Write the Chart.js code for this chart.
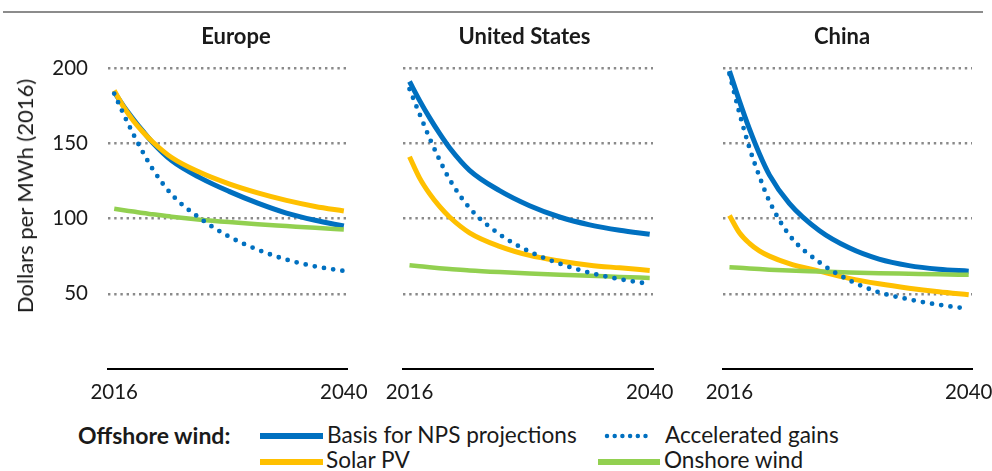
<!DOCTYPE html>
<html>
<head>
<meta charset="utf-8">
<script src="https://cdn.jsdelivr.net/npm/chart.js@4.4.1/dist/chart.umd.min.js"></script>
<style>
  body { margin: 0; width: 992px; height: 471px; background: #fff; position: relative; overflow: hidden; font-family: Lato, sans-serif; color: #1a1a1a; }
  .rule { position: absolute; left: 3px; top: 11px; width: 980px; height: 2px; background: #8c8c8c; }
  canvas { position: absolute; top: 0; }
  .head { position: absolute; top: 23px; font: bold 22px/26px Lato, sans-serif; transform: translateX(-50%); white-space: nowrap; }
  .ytitle { position: absolute; left: 25px; top: 196px; font: 22px/26px Lato, sans-serif; transform: translate(-50%, -50%) rotate(-90deg); white-space: nowrap; }
  .lg { position: absolute; font: 22.6px/26px Lato, sans-serif; white-space: nowrap; }
  .lg.b { font-weight: bold; font-size: 23px; }
  svg { position: absolute; left: 0; top: 415px; }
</style>
</head>
<body>
<div class="rule"></div>
<canvas id="c0" width="377" height="410" style="left:0px"></canvas>
<canvas id="c1" width="310" height="410" style="left:373px"></canvas>
<canvas id="c2" width="299" height="410" style="left:693px"></canvas>
<div class="ytitle">Dollars per MWh (2016)</div>
<div id="legend"></div>

<script>
// years sampled along each curve
const years = [2016, 2017, 2018, 2019, 2020, 2022, 2025, 2028, 2031, 2034, 2037, 2040];
const xTicks = [2016, 2040];
const yTicks = [0, 50, 100, 150, 200];
const regions = ['Europe', 'United States', 'China'];
const seriesNames = ['Basis for NPS projections', 'Accelerated gains', 'Solar PV', 'Onshore wind'];

// $/MWh (2016)
const europeBasis       = [184, 174.5, 166, 158, 150.5, 138.5, 127, 118, 110.2, 103.6, 98.8, 95];
const europeAccelerated = [183, 169, 156, 144, 133, 116, 100, 88, 79.3, 72.7, 68.2, 65.2];
const europeSolar       = [185, 174, 165, 157.5, 151, 140.5, 130.5, 123, 117, 112, 108, 105];
const europeOnshore     = [106.5, 105.5, 104.6, 103.6, 102.8, 101.2, 99.2, 97.6, 96.2, 95, 93.8, 92.7];

const usBasis       = [191, 178.5, 167, 156.5, 147, 132, 118.5, 108.5, 101, 95.8, 92.2, 89.5];
const usAccelerated = [186, 169.5, 153.5, 139, 126, 107, 89.5, 78, 70, 64, 59.7, 56.5];
const usSolar       = [141, 127, 116.5, 108, 101, 90.5, 81.5, 75.5, 71.8, 69, 67.2, 65.5];
const usOnshore     = [69, 68.3, 67.6, 67, 66.5, 65.5, 64.4, 63.5, 62.7, 62, 61.2, 60.5];

const chinaBasis       = [198, 178, 159.5, 143, 129, 110, 92, 80.5, 73, 68.7, 66.3, 65];
const chinaAccelerated = [196, 170, 147, 128, 111.5, 89, 71, 59, 51, 46.3, 42.7, 40];
const chinaSolar       = [102, 90.5, 83.5, 78.5, 75, 70, 65, 60.2, 56.6, 53.7, 51.3, 49.3];
const chinaOnshore     = [67.6, 67.2, 66.8, 66.4, 66, 65.4, 64.8, 64.2, 63.7, 63.3, 62.9, 62.6];

const BLUE = '#0070C0', YELLOW = '#FFC000', GREEN = '#92D050', GRID = '#8a8a8a', INK = '#1a1a1a';
const colors = [BLUE, BLUE, YELLOW, GREEN];

const panels = [
  { id: 'c0', head: 236, yAxis: true, pad: { left: 0, right: 30 }, series: [europeBasis, europeAccelerated, europeSolar, europeOnshore] },
  { id: 'c1', head: 524.5, yAxis: false, pad: { left: 30, right: 30 }, series: [usBasis, usAccelerated, usSolar, usOnshore] },
  { id: 'c2', head: 842, yAxis: false, pad: { left: 30, right: 20 }, series: [chinaBasis, chinaAccelerated, chinaSolar, chinaOnshore] },
];

const tickFont = { family: 'Lato', size: 20.5 };

panels.forEach((p, i) => {
  // heading
  const h = document.createElement('div');
  h.className = 'head';
  h.style.left = p.head + 'px';
  h.textContent = regions[i];
  document.body.appendChild(h);

  const pts = s => years.map((y, k) => ({ x: y, y: s[k] }));
  const datasets = [
    { label: seriesNames[1], data: pts(p.series[1]), borderColor: BLUE, borderWidth: 4.8, borderDash: [0, 9.3], borderCapStyle: 'round', order: 0 },
    { label: seriesNames[3], data: pts(p.series[3]), borderColor: GREEN, borderWidth: 4.5, order: 1 },
    { label: seriesNames[2], data: pts(p.series[2]), borderColor: YELLOW, borderWidth: 5, order: 2 },
    { label: seriesNames[0], data: pts(p.series[0]), borderColor: BLUE, borderWidth: 5, order: 3 },
  ];

  new Chart(document.getElementById(p.id), {
    type: 'line',
    data: { datasets },
    options: {
      responsive: false,
      animation: false,
      devicePixelRatio: 1,
      layout: { padding: { top: 68, bottom: 0, left: p.pad.left, right: p.pad.right } },
      datasets: { line: { pointRadius: 0, cubicInterpolationMode: 'monotone', fill: false, clip: false } },
      plugins: { legend: { display: false }, tooltip: { enabled: false }, title: { display: false } },
      scales: {
        x: {
          type: 'linear', min: 2015.35, max: 2040.33,
          afterBuildTicks: s => { s.ticks = xTicks.map(v => ({ value: v })); },
          afterFit: s => { s.height = 41; s.paddingLeft = 0; s.paddingRight = 0; },
          grid: { display: false, drawTicks: false },
          border: { display: true, color: '#000', width: 2 },
          ticks: { padding: 11, color: INK, font: tickFont, maxRotation: 0, autoSkip: false, callback: v => String(v) }
        },
        y: {
          min: 0, max: 200,
          afterBuildTicks: s => { s.ticks = yTicks.map(v => ({ value: v })); },
          afterFit: s => { s.width = p.yAxis ? 108 : 0; },
          grid: { drawTicks: false, lineWidth: 2.4, color: c => c.tick && c.tick.value === 0 ? 'rgba(0,0,0,0)' : GRID },
          border: { display: false, dash: [2.4, 3.8] },
          ticks: { display: p.yAxis, padding: 20, color: INK, font: tickFont, callback: v => v === 0 ? '' : String(v) }
        }
      }
    }
  });
});

// legend: "Offshore wind:" heads the two blue entries
const legend = document.getElementById('legend');
const addText = (txt, left, top, bold) => {
  const d = document.createElement('div');
  d.className = 'lg' + (bold ? ' b' : '');
  d.style.left = left + 'px';
  d.style.top = top + 'px';
  d.textContent = txt;
  legend.appendChild(d);
};
addText('Offshore wind:', 78, 422, true);
addText(seriesNames[0], 327, 422);
addText(seriesNames[1], 665, 422);
addText(seriesNames[2], 326, 447);
addText(seriesNames[3], 664, 447);

const NS = 'http://www.w3.org/2000/svg';
const svg = document.createElementNS(NS, 'svg');
svg.setAttribute('width', 992);
svg.setAttribute('height', 56);
const sample = (x1, x2, y, color, dotted) => {
  const l = document.createElementNS(NS, 'line');
  l.setAttribute('x1', x1); l.setAttribute('x2', x2);
  l.setAttribute('y1', y); l.setAttribute('y2', y);
  l.setAttribute('stroke', color);
  if (dotted) {
    l.setAttribute('stroke-width', 4.5);
    l.setAttribute('stroke-linecap', 'round');
    l.setAttribute('stroke-dasharray', '0 7.7');
  } else {
    l.setAttribute('stroke-width', 6);
  }
  svg.appendChild(l);
};
sample(260, 323, 21, colors[0]);
sample(607, 646, 21, colors[1], true);
sample(260, 323, 47, colors[2]);
sample(598, 660, 47, colors[3]);
legend.appendChild(svg);
</script>
</body>
</html>
